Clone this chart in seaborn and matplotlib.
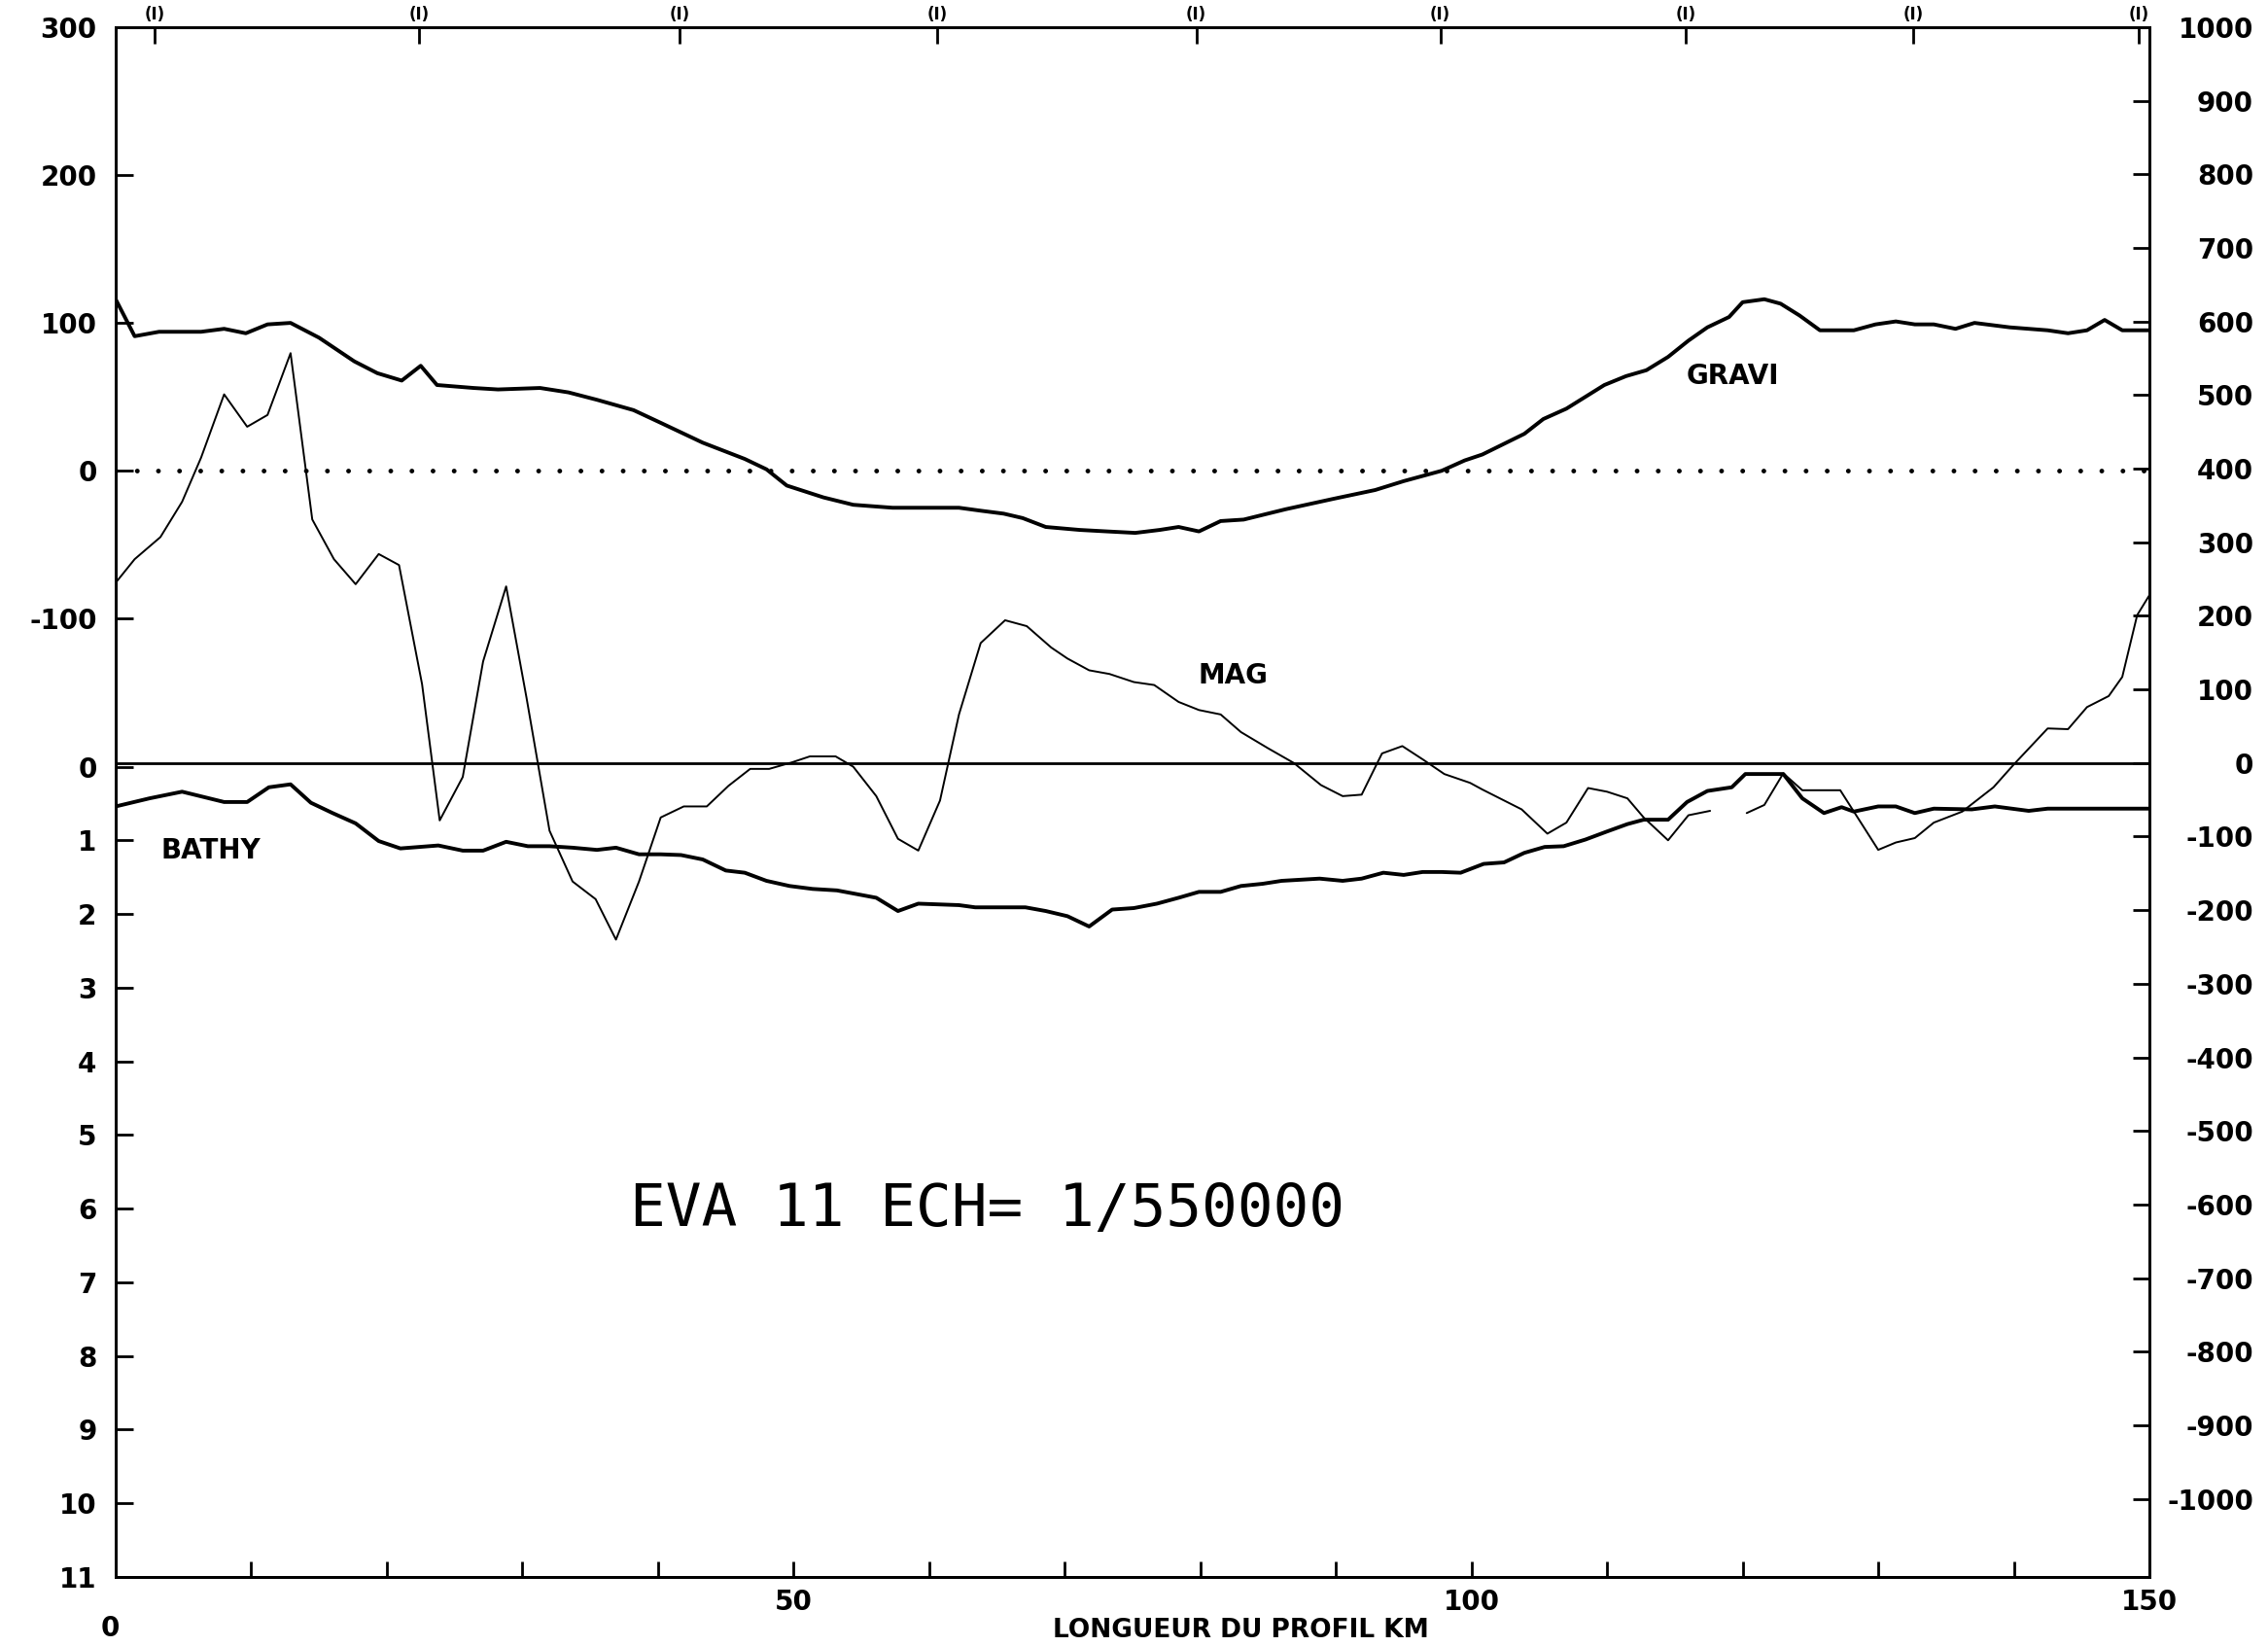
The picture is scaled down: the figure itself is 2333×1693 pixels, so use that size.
import numpy as np
import pandas as pd
import matplotlib
matplotlib.use("Agg")
import matplotlib.pyplot as plt
from matplotlib.ticker import MultipleLocator
import seaborn as sns

# Values
grav_km = [0.0, 1.4, 3.2, 6.3, 8.0, 9.6, 11.2, 12.9, 15.0, 17.6, 19.3, 21.1, 22.5, 23.7,
           26.4, 28.2, 31.3, 33.4, 35.5, 38.2, 40.3, 43.3, 46.4, 48.0, 49.5, 52.2, 54.4,
           57.3, 60.3, 62.2, 63.8, 65.5, 66.9, 68.6, 71.1, 73.1, 75.2, 77.0, 78.4, 79.9,
           81.5, 83.2, 86.3, 89.8, 92.9, 95.0, 97.8, 99.5, 100.8, 103.9, 105.3, 107.0,
           109.8, 111.4, 112.9, 114.5, 116.0, 117.4, 119.0, 120.0, 121.6, 122.8, 124.2,
           125.7, 128.2, 129.8, 131.3, 132.7, 134.1, 135.7, 137.1, 139.7, 142.5, 144.0,
           145.4, 146.7, 148.0, 150.0]
grav_mgal = [116, 91, 94, 94, 96, 93, 99, 100, 90, 74, 66, 61, 71, 58,
             56, 55, 56, 53, 48, 41, 32, 19, 8, 1, -10, -18, -23,
             -25, -25, -25, -27, -29, -32, -38, -40, -41, -42, -40, -38, -41,
             -34, -33, -26, -19, -13, -7, 0, 7, 11, 25, 35, 42,
             58, 64, 68, 77, 88, 97, 104, 114, 116, 113, 105,
             95, 95, 99, 101, 99, 99, 96, 100, 97, 95, 93,
             95, 102, 95, 95]

mag_km = [0.0, 1.4, 3.3, 4.9, 6.3, 8.0, 9.7, 11.2, 12.9, 14.5, 16.1, 17.7, 19.4, 20.9,
          22.6, 23.9, 25.6, 27.1, 28.8, 30.3, 32.0, 33.7, 35.4, 36.9, 38.6, 40.2, 41.9,
          43.6, 45.2, 46.8, 48.2, 49.9, 51.2, 53.1, 54.4, 56.1, 57.7, 59.2, 60.8, 62.2,
          63.8, 65.6, 67.2, 69.0, 70.2, 71.8, 73.3, 75.1, 76.6, 78.4, 79.9, 81.5, 83.0,
          85.0, 86.9, 88.9, 90.5, 91.9, 93.4, 94.9, 96.4, 98.0, 99.9, 100.8, 103.7,
          105.6, 107.0, 108.6, 110.0, 111.5, 112.7, 114.5, 116.0, 117.6, np.nan, 120.3,
          121.6, 123.0, 124.4, 127.2, 130.0, 131.3, 132.7, 134.1, 136.2, 138.5, 140.0,
          142.5, 144.0, 145.4, 147.0, 148.0, 149.1, 150.0]
mag_nt = [245, 277, 307, 355, 415, 501, 457, 473, 557, 331, 277, 243, 284, 269,
          107, -78, -19, 138, 240, 89, -92, -161, -185, -240, -161, -74, -59,
          -59, -31, -8, -8, 1, 9, 9, -5, -45, -103, -119, -51, 66,
          163, 194, 186, 157, 142, 126, 121, 110, 106, 83, 72, 66, 42,
          20, 0, -30, -45, -43, 13, 23, 5, -15, -27, -36, -63,
          -96, -81, -34, -39, -48, -74, -105, -71, -65, np.nan, -68,
          -57, -14, -37, -37, -118, -108, -102, -81, -66, -33, -2,
          47, 46, 76, 91, 117, 201, 228]

bathy_km = [0.0, 2.5, 4.9, 8.0, 9.7, 11.3, 12.9, 14.4, 16.0, 17.7, 19.4, 21.0, 23.8,
            25.6, 27.1, 28.8, 30.4, 32.0, 33.7, 35.5, 36.9, 38.6, 40.2, 41.7, 43.3,
            45.0, 46.4, 48.0, 49.7, 51.4, 53.2, 56.1, 57.7, 59.2, 62.2, 63.4, 67.1,
            68.6, 70.2, 71.8, 73.5, 75.1, 76.8, 78.4, 79.9, 81.5, 83.0, 84.6, 86.0,
            88.8, 90.5, 91.9, 93.5, 95.0, 96.4, 97.8, 99.2, 100.9, 102.4, 103.9, 105.4,
            106.8, 108.4, 110.0, 111.5, 112.7, 114.5, 115.9, 117.4, 119.2, 120.2, 123.0,
            124.4, 126.0, 127.3, 128.2, 130.0, 131.3, 132.7, 134.1, 136.9, 138.6, 141.1,
            142.5, 150.0]
bathy_depth = [0.54, 0.43, 0.34, 0.48, 0.48, 0.28, 0.24, 0.49, 0.63, 0.77, 1.01, 1.11, 1.07,
               1.14, 1.14, 1.02, 1.08, 1.08, 1.10, 1.13, 1.10, 1.19, 1.19, 1.20, 1.26,
               1.41, 1.44, 1.55, 1.62, 1.66, 1.68, 1.78, 1.96, 1.86, 1.88, 1.91, 1.91,
               1.96, 2.03, 2.17, 1.94, 1.92, 1.86, 1.78, 1.70, 1.70, 1.62, 1.59, 1.55,
               1.52, 1.55, 1.52, 1.44, 1.47, 1.43, 1.43, 1.44, 1.32, 1.30, 1.17, 1.09,
               1.08, 0.99, 0.88, 0.78, 0.72, 0.72, 0.48, 0.33, 0.28, 0.10, 0.10,
               0.43, 0.63, 0.55, 0.61, 0.54, 0.54, 0.63, 0.57, 0.58, 0.54, 0.60,
               0.57, 0.57]

top_marks_km = [2.9, 22.4, 41.6, 60.6, 79.7, 97.7, 115.8, 132.6, 149.2]
grav_ticks = [300, 200, 100, 0, -100]
depth_ticks = list(range(0, 12))
mag_ticks = list(range(-1000, 1001, 100))
km_ticks = [50, 100, 150]

sns.set_theme(style="white", rc={"axes.edgecolor": "black", "xtick.color": "black",
                                 "ytick.color": "black", "text.color": "black"})
plt.rcParams["font.family"] = ["DejaVu Sans"]

fig = plt.figure(figsize=(23.33, 16.93), dpi=100)
ax = fig.add_axes([0.051, 0.042, 0.8967, 0.9415])
ax_d = ax.twinx()
ax_m = ax.twinx()
ax_t = ax.twiny()

df_g = pd.DataFrame({"km": grav_km, "val": grav_mgal})
df_d = pd.DataFrame({"km": bathy_km, "val": bathy_depth})
df_m = pd.DataFrame({"km": mag_km, "val": mag_nt})
df_m["seg"] = df_m["val"].isna().cumsum()
df_m = df_m.dropna()

sns.lineplot(data=df_g, x="km", y="val", ax=ax, color="black", linewidth=2.8, estimator=None)
sns.lineplot(data=df_d, x="km", y="val", ax=ax_d, color="black", linewidth=2.8, estimator=None)
sns.lineplot(data=df_m, x="km", y="val", units="seg", estimator=None, ax=ax_m,
             color="black", linewidth=1.4)

# reference lines: gravity zero (dotted) and magnetic zero (solid)
ax.axhline(0, color="black", linewidth=3.5, linestyle=(0, (0.01, 4.46)), dash_capstyle="round")
ax_m.axhline(0, color="black", linewidth=2)

ax.set_xlim(0, 150)
ax_t.set_xlim(0, 150)
ax.set_ylim(-748, 300)
ax_d.set_ylim(11, -10.04)
ax_m.set_ylim(-1106, 1000)

for a in (ax, ax_d, ax_m):
    a.set_xlabel("")
    a.set_ylabel("")
for a in (ax, ax_d, ax_m, ax_t):
    for s in a.spines.values():
        s.set_linewidth(2)
        s.set_color("black")

lab = dict(fontsize=20, fontweight="bold")

# left axis: gravity (mGal) above, depth (km) below
ax.set_yticks(grav_ticks)
ax.set_yticklabels([str(v) for v in grav_ticks], **lab)
ax.tick_params(axis="y", left=True, right=False, direction="in", length=13, width=2, pad=14)
ax_d.yaxis.tick_left()
ax_d.set_yticks(depth_ticks)
ax_d.set_yticklabels([str(v) for v in depth_ticks], **lab)
ax_d.tick_params(axis="y", direction="in", length=13, width=2, pad=14)

# right axis: magnetics (nT), labels right-aligned like the plotter output
ax_m.set_yticks(mag_ticks)
ax_m.set_yticklabels([str(v) for v in mag_ticks], ha="right", **lab)
ax_m.tick_params(axis="y", direction="in", length=12, width=2, pad=77)

# bottom axis: distance (km)
ax.set_xticks(km_ticks)
ax.set_xticklabels([str(v) for v in km_ticks], **lab)
ax.xaxis.set_minor_locator(MultipleLocator(10))
ax.tick_params(axis="x", which="both", bottom=True, top=False, direction="in",
               length=11.5, width=2, pad=9)

# top axis: fix marks
ax_t.set_xticks(top_marks_km)
ax_t.set_xticklabels(["(I)"] * len(top_marks_km), fontsize=12, fontweight="bold")
ax_t.tick_params(axis="x", direction="in", length=12, width=2, pad=3)

ax.annotate("0", xy=(0, 0), xycoords=("data", "axes fraction"), xytext=(-4, -38),
            textcoords="offset points", ha="center", va="center", **lab)

# curve labels and plot caption
ax.text(119.3, 63.8, "GRAVI", ha="center", va="center", **lab)
ax_m.text(82.4, 119, "MAG", ha="center", va="center", **lab)
ax_d.text(7.0, 1.14, "BATHY", ha="center", va="center", **lab)
ax_d.text(64.3, 6.02, "EVA 11 ECH= 1/550000", ha="center", va="center",
          fontsize=44, family="DejaVu Sans Mono")

fig.text(0.547, 0.002, "LONGUEUR DU PROFIL KM", ha="center", va="bottom",
         fontsize=19, fontweight="bold")

fig.savefig("out.png", dpi=100)
